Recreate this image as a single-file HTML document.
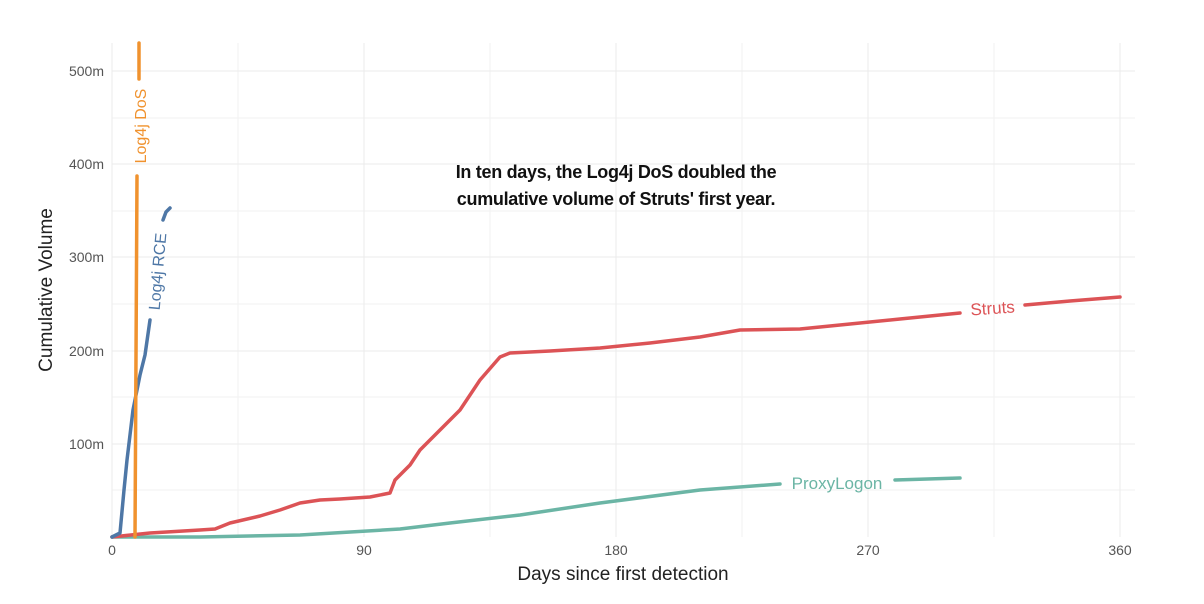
<!DOCTYPE html>
<html><head><meta charset="utf-8"><style>
html,body{margin:0;padding:0;background:#fff;}
svg{display:block;font-family:"Liberation Sans",sans-serif;}
</style></head><body>
<svg width="1204" height="604" viewBox="0 0 1204 604">
<g stroke="#f2f2f2" stroke-width="1">
<line x1="112" y1="490" x2="1135" y2="490"/><line x1="112" y1="397" x2="1135" y2="397"/>
<line x1="112" y1="304" x2="1135" y2="304"/><line x1="112" y1="211" x2="1135" y2="211"/>
<line x1="112" y1="118" x2="1135" y2="118"/>
<line x1="238" y1="43" x2="238" y2="537"/><line x1="490" y1="43" x2="490" y2="537"/>
<line x1="742" y1="43" x2="742" y2="537"/><line x1="994" y1="43" x2="994" y2="537"/>
</g>
<g stroke="#ebebeb" stroke-width="1">
<line x1="112" y1="444" x2="1135" y2="444"/><line x1="112" y1="351" x2="1135" y2="351"/>
<line x1="112" y1="257" x2="1135" y2="257"/><line x1="112" y1="164" x2="1135" y2="164"/>
<line x1="112" y1="71" x2="1135" y2="71"/>
<line x1="112" y1="43" x2="112" y2="537"/><line x1="364" y1="43" x2="364" y2="537"/>
<line x1="616" y1="43" x2="616" y2="537"/><line x1="868" y1="43" x2="868" y2="537"/>
<line x1="1120" y1="43" x2="1120" y2="537"/>
</g>
<g font-size="14" fill="#555" text-anchor="end">
<text x="104" y="449">100m</text><text x="104" y="356">200m</text>
<text x="104" y="262">300m</text><text x="104" y="169">400m</text><text x="104" y="76">500m</text>
</g>
<g font-size="14" fill="#555" text-anchor="middle">
<text x="112" y="555">0</text><text x="364" y="555">90</text><text x="616" y="555">180</text>
<text x="868" y="555">270</text><text x="1120" y="555">360</text>
</g>
<text x="623" y="580" font-size="19" fill="#222" text-anchor="middle">Days since first detection</text>
<text transform="translate(52,290) rotate(-90)" font-size="19" fill="#222" text-anchor="middle">Cumulative Volume</text>
<g fill="none" stroke-width="3.5" stroke-linecap="round" stroke-linejoin="round">
<polyline stroke="#6bb5a5" points="112,537 200,537 300,535 400,529 450,523 520,515 600,503 700,490 780,484"/>
<polyline stroke="#6bb5a5" points="895,480 960,478"/>
<polyline stroke="#dc5356" points="112,537 150,533 200,530 215,529 230,523 260,516 280,510 300,503 320,500 340,499 370,497 390,493 395,480 410,465 420,450 440,430 460,410 480,380 500,357 510,353 550,351 600,348 650,343 700,337 740,330 800,329 850,324 900,319 960,313"/>
<polyline stroke="#dc5356" points="1025,305 1070,301 1120,297"/>
<polyline stroke="#4e77a6" points="112,537 120,533 124,490 127,460 133,410 140,375 145,355 150,320"/>
<polyline stroke="#4e77a6" points="163,220 166,212 170,208"/>
<polyline stroke="#f0922e" points="135,537 137,176"/>
<polyline stroke="#f0922e" points="139,79 139,43"/>
</g>
<text transform="translate(146,126) rotate(-90)" font-size="16" fill="#f0922e" text-anchor="middle">Log4j DoS</text>
<text transform="translate(163,272) rotate(-85)" font-size="16" fill="#4e77a6" text-anchor="middle">Log4j RCE</text>
<text transform="translate(993,314) rotate(-4)" font-size="17" fill="#dc5356" text-anchor="middle">Struts</text>
<text x="837" y="489" font-size="17" fill="#6bb5a5" text-anchor="middle">ProxyLogon</text>
<g font-size="18" fill="#111" text-anchor="middle" font-weight="bold" letter-spacing="-0.3">
<text x="616" y="178">In ten days, the Log4j DoS doubled the</text>
<text x="616" y="205">cumulative volume of Struts' first year.</text>
</g>
</svg>
</body></html>
